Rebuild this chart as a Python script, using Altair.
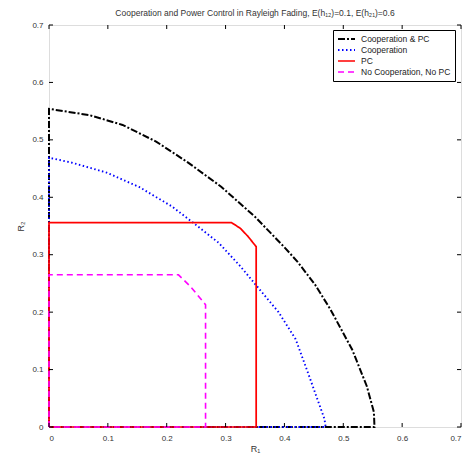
import altair as alt
import pandas as pd

series_names = ["Cooperation & PC", "Cooperation", "PC", "No Cooperation, No PC"]
series_colors = ["#000000", "#0000ff", "#ff0000", "#ff00ff"]
series_dashes = [[7, 2, 2, 2], [1.5, 2.5], [1, 0], [6, 4]]
series_widths = [2, 1.6, 2, 2]

coop_pc_x = [0, 0, 0.069, 0.125, 0.182, 0.237, 0.293, 0.350, 0.400, 0.422, 0.452, 0.478, 0.515, 0.540, 0.552, 0.553, 0]
coop_pc_y = [0, 0.554, 0.543, 0.526, 0.497, 0.460, 0.418, 0.366, 0.313, 0.288, 0.248, 0.205, 0.135, 0.071, 0.026, 0, 0]

coop_x = [0, 0, 0.040, 0.098, 0.153, 0.209, 0.242, 0.288, 0.325, 0.355, 0.390, 0.419, 0.444, 0.468, 0.470, 0]
coop_y = [0, 0.469, 0.460, 0.443, 0.418, 0.384, 0.358, 0.321, 0.280, 0.243, 0.200, 0.153, 0.083, 0.014, 0, 0]

pc_x = [0, 0, 0.310, 0.325, 0.338, 0.352, 0.352, 0]
pc_y = [0, 0.356, 0.356, 0.346, 0.332, 0.314, 0, 0]

nocoop_x = [0, 0, 0.220, 0.240, 0.266, 0.266, 0]
nocoop_y = [0, 0.265, 0.265, 0.245, 0.213, 0, 0]

tick_values = [0, 0.1, 0.2, 0.3, 0.4, 0.5, 0.6, 0.7]

rows = []
for name, xs, ys in zip(series_names,
                        [coop_pc_x, coop_x, pc_x, nocoop_x],
                        [coop_pc_y, coop_y, pc_y, nocoop_y]):
    for i, (x, y) in enumerate(zip(xs, ys)):
        rows.append({"series": name, "R1": x, "R2": y, "order": i})
df = pd.DataFrame(rows)
ticks_df = pd.DataFrame({"t": tick_values})

W, H = 412, 402
font = "Liberation Sans"

leg = alt.Legend(
    title=None, orient="none", legendX=284, legendY=5,
    symbolType="stroke", symbolSize=289, symbolStrokeWidth=2,
    labelFontSize=8.5, labelFont=font, labelColor="#222",
    fillColor="white", strokeColor="black", padding=4,
    rowPadding=1, clipHeight=10, labelOffset=5, offset=0,
)

xscale = alt.Scale(domain=[0, 0.7], nice=False)
yscale = alt.Scale(domain=[0, 0.7], nice=False)

lines = alt.Chart(df).mark_line(clip=False).encode(
    x=alt.X("R1:Q", scale=xscale, title="R\u2081",
            axis=alt.Axis(values=tick_values, format="~g", ticks=False, domain=False,
                          grid=False, labelFontSize=8, labelFont=font, labelColor="#333",
                          labelPadding=7, titleFontSize=9, titleFont=font,
                          titleFontWeight="normal", titleColor="#333", titlePadding=2)),
    y=alt.Y("R2:Q", scale=yscale, title="R\u2082",
            axis=alt.Axis(values=tick_values, format="~g", ticks=False, domain=False,
                          grid=False, labelFontSize=8, labelFont=font, labelColor="#333",
                          labelPadding=6, titleFontSize=9, titleFont=font,
                          titleFontWeight="normal", titleColor="#333", titlePadding=6)),
    color=alt.Color("series:N", scale=alt.Scale(domain=series_names, range=series_colors), legend=leg),
    strokeDash=alt.StrokeDash("series:N", scale=alt.Scale(domain=series_names, range=series_dashes), legend=leg),
    strokeWidth=alt.StrokeWidth("series:N", scale=alt.Scale(domain=series_names, range=series_widths), legend=leg),
    order="order:Q",
)

tk = alt.Chart(ticks_df)
bottom = tk.mark_rule(color="black").encode(x=alt.X("t:Q", scale=xscale), y=alt.value(H), y2=alt.value(H - 4))
top = tk.mark_rule(color="black").encode(x=alt.X("t:Q", scale=xscale), y=alt.value(0), y2=alt.value(4))
left = tk.mark_rule(color="black").encode(y=alt.Y("t:Q", scale=yscale), x=alt.value(0), x2=alt.value(4))
right = tk.mark_rule(color="black").encode(y=alt.Y("t:Q", scale=yscale), x=alt.value(W), x2=alt.value(W - 4))

chart = alt.layer(lines, bottom, top, left, right).properties(
    width=W, height=H,
    title=alt.Title("Cooperation and Power Control in Rayleigh Fading, E(h\u2081\u2082)=0.1, E(h\u2082\u2081)=0.6",
                    fontSize=8.5, font=font, fontWeight="normal", color="#333", offset=4, anchor="middle"),
    padding={"left": 41, "top": 17, "right": 1, "bottom": 28},
    autosize=alt.AutoSizeParams(type="none"),
).configure_view(stroke="black", strokeWidth=1.2).configure(background="white")

chart.save("out.html", embed_options={"renderer": "svg", "actions": False})
